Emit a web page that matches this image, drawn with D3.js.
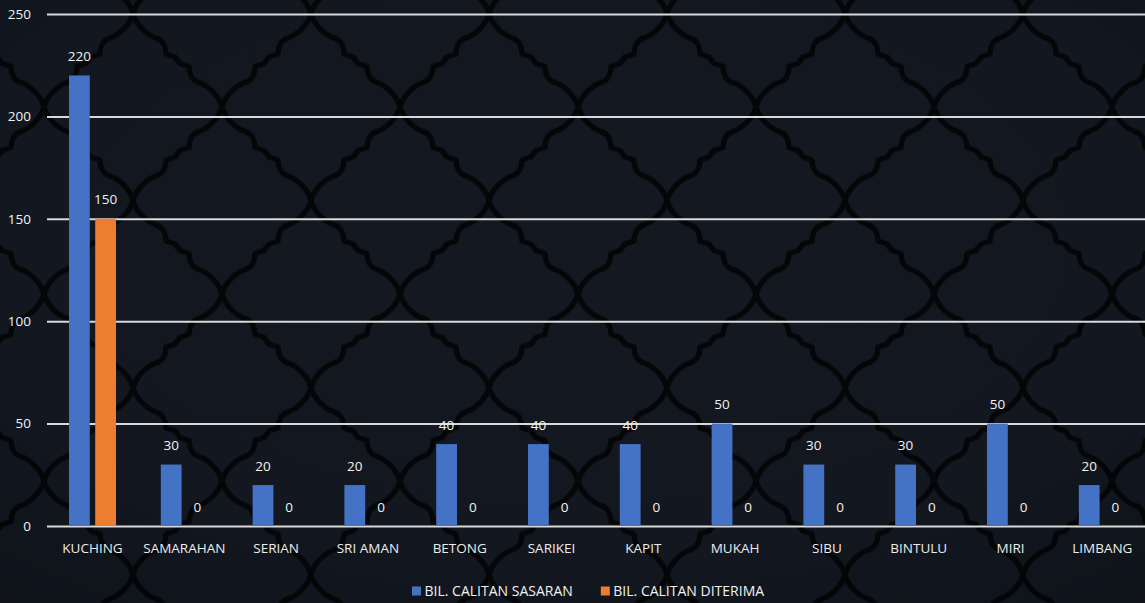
<!DOCTYPE html>
<html><head><meta charset="utf-8">
<script src="https://cdn.jsdelivr.net/npm/d3@7"></script>
<style>html,body{margin:0;padding:0;background:#12161f;overflow:hidden}svg{display:block}</style>
</head><body><svg id="c" width="1145" height="603"></svg>
<script>
const categories = ["KUCHING","SAMARAHAN","SERIAN","SRI AMAN","BETONG","SARIKEI","KAPIT","MUKAH","SIBU","BINTULU","MIRI","LIMBANG"];
const sasaran = [220,30,20,20,40,40,40,50,30,30,50,20];
const diterima = [150,0,0,0,0,0,0,0,0,0,0,0];
const seriesNames = ["BIL. CALITAN SASARAN","BIL. CALITAN DITERIMA"];
const seriesColors = ["#4472C4","#ED7D31"];
const yTicks = [0,50,100,150,200,250];

const W = 1145, H = 603;
const svg = d3.select("#c");
const defs = svg.append("defs");

// background lattice pattern (decorative)
const pat = defs.append("pattern").attr("id","lat").attr("patternUnits","userSpaceOnUse")
  .attr("width",178).attr("height",187).attr("x",44).attr("y",13.5);
pat.append("rect").attr("width",178).attr("height",187).attr("fill","#131821");
function edge(sx, sy){
  const p = (x,y)=>[(89 + sx*x).toFixed(2),(93.5 + sy*y).toFixed(2)].join(",");
  return "M"+p(0,-93.5)+
    " C"+p(3,-82)+" "+p(14,-72)+" "+p(23,-69)+
    " C"+p(30,-67)+" "+p(33,-60)+" "+p(33,-53)+
    " L"+p(42,-50)+" L"+p(47,-43.5)+" L"+p(56,-40.5)+
    " C"+p(56,-33.5)+" "+p(59,-26.5)+" "+p(66,-24.5)+
    " C"+p(75,-21.5)+" "+p(86,-11.5)+" "+p(89,0);
}
[[1,1],[-1,1],[1,-1],[-1,-1]].forEach(([sx,sy])=>{
  pat.append("path").attr("d",edge(sx,sy)).attr("fill","none").attr("stroke","#050608")
    .attr("stroke-width",5.5).attr("stroke-linejoin","round");
});
const vg = defs.append("radialGradient").attr("id","vig").attr("cx","50%").attr("cy","40%").attr("r","80%");
vg.append("stop").attr("offset","0%").attr("stop-color","#000").attr("stop-opacity",0);
vg.append("stop").attr("offset","65%").attr("stop-color","#000").attr("stop-opacity",0.03);
vg.append("stop").attr("offset","100%").attr("stop-color","#000").attr("stop-opacity",0.25);
svg.append("rect").attr("width",W).attr("height",H).attr("fill","url(#lat)");
svg.append("rect").attr("width",W).attr("height",H).attr("fill","url(#vig)");

const font = "'Open Sans', sans-serif";
const fs = 13.5;
const x = d3.scaleBand().domain(categories).range([46.6, 1148.2]).paddingInner(0).paddingOuter(0);
const xs = d3.scaleBand().domain([0,1]).range([-23.5, 23.5]).paddingInner(0.206);
const y = d3.scaleLinear().domain([0,250]).range([526, 14]);

const yAxis = d3.axisLeft(y).tickValues(yTicks).tickSize(-(W - 47)).tickPadding(16);
const ga = svg.append("g").attr("transform","translate(47,0)").call(yAxis);
ga.select(".domain").remove();
ga.selectAll(".tick line").attr("stroke","#d9d9d9").attr("stroke-width",2);
ga.selectAll(".tick text").attr("fill","#f2f2f2").attr("font-family",font).attr("font-size",fs).attr("x",-16);

const series = [sasaran, diterima];
series.forEach((vals, si)=>{
  const g = svg.append("g");
  g.selectAll("rect").data(vals).join("rect")
    .attr("x",(d,i)=>x(categories[i]) + x.bandwidth()/2 + xs(si))
    .attr("width",xs.bandwidth())
    .attr("y",d=>y(d)).attr("height",d=>y(0)-y(d))
    .attr("fill",seriesColors[si]);
  g.selectAll("text").data(vals).join("text")
    .attr("x",(d,i)=>x(categories[i]) + x.bandwidth()/2 + xs(si) + xs.bandwidth()/2)
    .attr("y",d=>y(d) - 14.5)
    .attr("text-anchor","middle").attr("fill","#f2f2f2")
    .attr("font-family",font).attr("font-size",fs).text(d=>d);
});

const xAxis = d3.axisBottom(x).tickSize(0).tickPadding(0);
const gx = svg.append("g").attr("transform","translate(0,526)").call(xAxis);
gx.select(".domain").remove();
gx.selectAll(".tick text").attr("fill","#ececec").attr("font-family",font).attr("font-size",fs)
  .attr("y",27).attr("dy",0);

const lg = svg.append("g");
let lx = 412;
seriesNames.forEach((n,i)=>{
  lg.append("rect").attr("x",lx).attr("y",586.5).attr("width",9).attr("height",9).attr("fill",seriesColors[i]);
  const t = lg.append("text").attr("x",lx+12.5).attr("y",596).attr("fill","#f2f2f2")
    .attr("font-family",font).attr("font-size",14).text(n);
  lx = lx + 12.5 + t.node().getComputedTextLength() + 28;
});
</script></body></html>
